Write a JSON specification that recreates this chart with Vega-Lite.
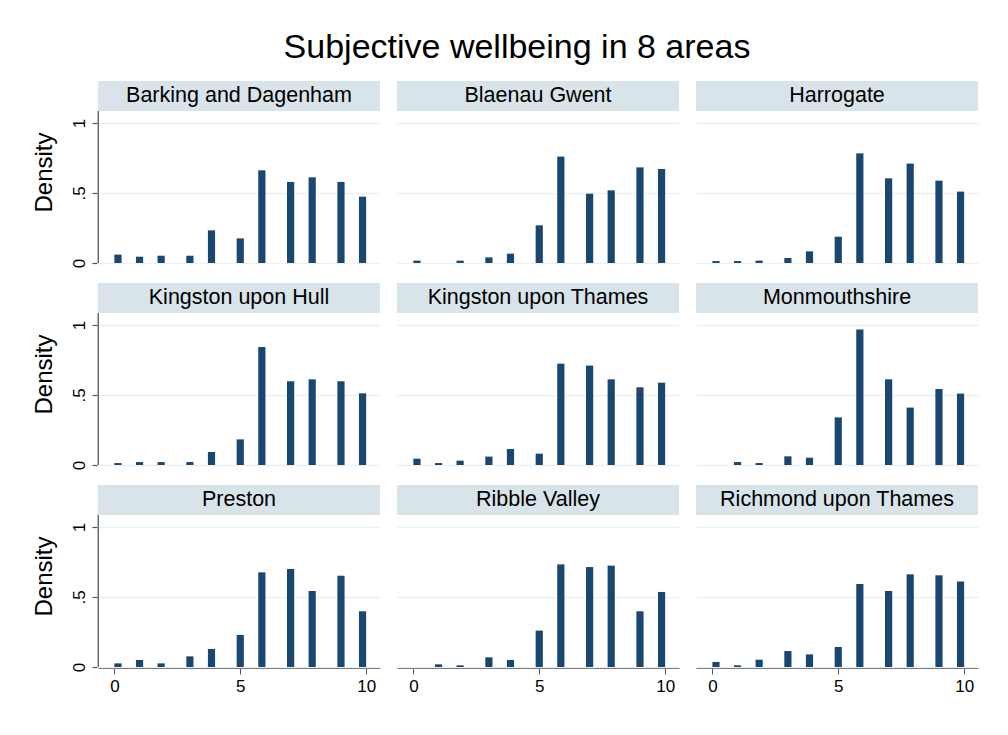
{
  "$schema": "https://vega.github.io/schema/vega-lite/v6.json",
  "background": "white",
  "padding": {"left": 32, "top": 31, "right": 5, "bottom": 5},
  "title": {"text": "Subjective wellbeing in 8 areas", "fontSize": 34, "fontWeight": "normal", "color": "#000000", "anchor": "middle", "offset": 15, "dx": 12},
  "datasets": {
    "bins": [
      {"v": 0, "x0": 0.0, "x1": 0.2857},
      {"v": 1, "x0": 0.8571, "x1": 1.1429},
      {"v": 2, "x0": 1.7143, "x1": 2.0},
      {"v": 3, "x0": 2.8571, "x1": 3.1429},
      {"v": 4, "x0": 3.7143, "x1": 4.0},
      {"v": 5, "x0": 4.8571, "x1": 5.1429},
      {"v": 6, "x0": 5.7143, "x1": 6.0},
      {"v": 7, "x0": 6.8571, "x1": 7.1429},
      {"v": 8, "x0": 7.7143, "x1": 8.0},
      {"v": 9, "x0": 8.8571, "x1": 9.1429},
      {"v": 10, "x0": 9.7143, "x1": 10.0}
    ],
    "wb": [
      {"area": "Barking and Dagenham", "v": 0, "d": 0.060},
      {"area": "Barking and Dagenham", "v": 1, "d": 0.045},
      {"area": "Barking and Dagenham", "v": 2, "d": 0.052},
      {"area": "Barking and Dagenham", "v": 3, "d": 0.052},
      {"area": "Barking and Dagenham", "v": 4, "d": 0.233},
      {"area": "Barking and Dagenham", "v": 5, "d": 0.176},
      {"area": "Barking and Dagenham", "v": 6, "d": 0.662},
      {"area": "Barking and Dagenham", "v": 7, "d": 0.579},
      {"area": "Barking and Dagenham", "v": 8, "d": 0.612},
      {"area": "Barking and Dagenham", "v": 9, "d": 0.579},
      {"area": "Barking and Dagenham", "v": 10, "d": 0.474},
      {"area": "Blaenau Gwent", "v": 0, "d": 0.017},
      {"area": "Blaenau Gwent", "v": 2, "d": 0.017},
      {"area": "Blaenau Gwent", "v": 3, "d": 0.040},
      {"area": "Blaenau Gwent", "v": 4, "d": 0.067},
      {"area": "Blaenau Gwent", "v": 5, "d": 0.269},
      {"area": "Blaenau Gwent", "v": 6, "d": 0.760},
      {"area": "Blaenau Gwent", "v": 7, "d": 0.495},
      {"area": "Blaenau Gwent", "v": 8, "d": 0.519},
      {"area": "Blaenau Gwent", "v": 9, "d": 0.683},
      {"area": "Blaenau Gwent", "v": 10, "d": 0.671},
      {"area": "Harrogate", "v": 0, "d": 0.014},
      {"area": "Harrogate", "v": 1, "d": 0.014},
      {"area": "Harrogate", "v": 2, "d": 0.017},
      {"area": "Harrogate", "v": 3, "d": 0.036},
      {"area": "Harrogate", "v": 4, "d": 0.083},
      {"area": "Harrogate", "v": 5, "d": 0.188},
      {"area": "Harrogate", "v": 6, "d": 0.783},
      {"area": "Harrogate", "v": 7, "d": 0.605},
      {"area": "Harrogate", "v": 8, "d": 0.710},
      {"area": "Harrogate", "v": 9, "d": 0.588},
      {"area": "Harrogate", "v": 10, "d": 0.510},
      {"area": "Kingston upon Hull", "v": 0, "d": 0.014},
      {"area": "Kingston upon Hull", "v": 1, "d": 0.021},
      {"area": "Kingston upon Hull", "v": 2, "d": 0.021},
      {"area": "Kingston upon Hull", "v": 3, "d": 0.021},
      {"area": "Kingston upon Hull", "v": 4, "d": 0.093},
      {"area": "Kingston upon Hull", "v": 5, "d": 0.183},
      {"area": "Kingston upon Hull", "v": 6, "d": 0.843},
      {"area": "Kingston upon Hull", "v": 7, "d": 0.598},
      {"area": "Kingston upon Hull", "v": 8, "d": 0.612},
      {"area": "Kingston upon Hull", "v": 9, "d": 0.598},
      {"area": "Kingston upon Hull", "v": 10, "d": 0.512},
      {"area": "Kingston upon Thames", "v": 0, "d": 0.045},
      {"area": "Kingston upon Thames", "v": 1, "d": 0.014},
      {"area": "Kingston upon Thames", "v": 2, "d": 0.031},
      {"area": "Kingston upon Thames", "v": 3, "d": 0.060},
      {"area": "Kingston upon Thames", "v": 4, "d": 0.114},
      {"area": "Kingston upon Thames", "v": 5, "d": 0.081},
      {"area": "Kingston upon Thames", "v": 6, "d": 0.724},
      {"area": "Kingston upon Thames", "v": 7, "d": 0.710},
      {"area": "Kingston upon Thames", "v": 8, "d": 0.612},
      {"area": "Kingston upon Thames", "v": 9, "d": 0.555},
      {"area": "Kingston upon Thames", "v": 10, "d": 0.588},
      {"area": "Monmouthshire", "v": 1, "d": 0.021},
      {"area": "Monmouthshire", "v": 2, "d": 0.014},
      {"area": "Monmouthshire", "v": 3, "d": 0.062},
      {"area": "Monmouthshire", "v": 4, "d": 0.052},
      {"area": "Monmouthshire", "v": 5, "d": 0.340},
      {"area": "Monmouthshire", "v": 6, "d": 0.967},
      {"area": "Monmouthshire", "v": 7, "d": 0.612},
      {"area": "Monmouthshire", "v": 8, "d": 0.410},
      {"area": "Monmouthshire", "v": 9, "d": 0.543},
      {"area": "Monmouthshire", "v": 10, "d": 0.510},
      {"area": "Preston", "v": 0, "d": 0.026},
      {"area": "Preston", "v": 1, "d": 0.050},
      {"area": "Preston", "v": 2, "d": 0.026},
      {"area": "Preston", "v": 3, "d": 0.076},
      {"area": "Preston", "v": 4, "d": 0.129},
      {"area": "Preston", "v": 5, "d": 0.229},
      {"area": "Preston", "v": 6, "d": 0.676},
      {"area": "Preston", "v": 7, "d": 0.700},
      {"area": "Preston", "v": 8, "d": 0.543},
      {"area": "Preston", "v": 9, "d": 0.652},
      {"area": "Preston", "v": 10, "d": 0.398},
      {"area": "Ribble Valley", "v": 1, "d": 0.019},
      {"area": "Ribble Valley", "v": 2, "d": 0.012},
      {"area": "Ribble Valley", "v": 3, "d": 0.069},
      {"area": "Ribble Valley", "v": 4, "d": 0.050},
      {"area": "Ribble Valley", "v": 5, "d": 0.260},
      {"area": "Ribble Valley", "v": 6, "d": 0.733},
      {"area": "Ribble Valley", "v": 7, "d": 0.714},
      {"area": "Ribble Valley", "v": 8, "d": 0.724},
      {"area": "Ribble Valley", "v": 9, "d": 0.398},
      {"area": "Ribble Valley", "v": 10, "d": 0.536},
      {"area": "Richmond upon Thames", "v": 0, "d": 0.036},
      {"area": "Richmond upon Thames", "v": 1, "d": 0.012},
      {"area": "Richmond upon Thames", "v": 2, "d": 0.052},
      {"area": "Richmond upon Thames", "v": 3, "d": 0.114},
      {"area": "Richmond upon Thames", "v": 4, "d": 0.090},
      {"area": "Richmond upon Thames", "v": 5, "d": 0.143},
      {"area": "Richmond upon Thames", "v": 6, "d": 0.593},
      {"area": "Richmond upon Thames", "v": 7, "d": 0.543},
      {"area": "Richmond upon Thames", "v": 8, "d": 0.662},
      {"area": "Richmond upon Thames", "v": 9, "d": 0.655},
      {"area": "Richmond upon Thames", "v": 10, "d": 0.610}
    ]
  },
  "data": {"name": "wb"},
  "transform": [
    {"lookup": "v", "from": {"data": {"name": "bins"}, "key": "v", "fields": ["x0", "x1"]}}
  ],
  "facet": {"field": "area", "type": "nominal", "header": {"title": null, "labels": false, "labelExpr": "''", "labelFontSize": 1, "labelPadding": 0, "labelColor": "white"}},
  "columns": 3,
  "spacing": {"row": 18, "column": 17},
  "spec": {
    "width": 282,
    "height": 182,
    "layer": [
      {
        "mark": {"type": "rect", "color": "#1a476f"},
        "encoding": {
          "x": {
            "field": "x0", "type": "quantitative",
            "scale": {"domain": [-0.65, 10.55], "nice": false, "zero": false},
            "axis": {"values": [0, 5, 10], "title": null, "grid": false, "domain": true, "domainColor": "#555555", "tickColor": "#555555", "tickSize": 6, "labelFontSize": 17, "labelColor": "#000000", "labelPadding": 4, "labelFlush": false}
          },
          "x2": {"field": "x1"},
          "y": {
            "field": "d", "type": "quantitative",
            "scale": {"domain": [0, 1.3], "nice": false},
            "axis": {"values": [0, 0.5, 1], "format": "~g", "title": "Density", "titleFontSize": 24, "titleFontWeight": "normal", "titleColor": "#000000", "titlePadding": 14, "domain": false, "ticks": true, "tickColor": "#555555", "tickWidth": 1.2, "tickSize": 5, "labelAngle": -90, "labelAlign": "center", "labelBaseline": "alphabetic", "labelPadding": 8, "labelFontSize": 17, "labelColor": "#000000", "labelExpr": "datum.value == 0.5 ? '.5' : datum.label", "grid": true, "gridColor": "#eaf2f3", "gridWidth": 1.5}
          },
          "y2": {"datum": 0}
        }
      },
      {
        "mark": {"type": "rect", "color": "#d8e4e9"},
        "transform": [{"filter": "datum.v == 6"}],
        "encoding": {
          "x": {"datum": -0.65},
          "x2": {"datum": 10.55},
          "y": {"datum": 1.086},
          "y2": {"datum": 1.3}
        }
      },
      {
        "mark": {"type": "text", "fontSize": 21.5, "color": "#000000", "align": "center", "baseline": "middle"},
        "transform": [{"filter": "datum.v == 6"}],
        "encoding": {
          "x": {"datum": 4.95},
          "y": {"datum": 1.193},
          "text": {"field": "area"}
        }
      },
      {
        "mark": {"type": "rule", "color": "#555555", "strokeWidth": 1.3},
        "transform": [{"filter": "datum.v == 6 && (datum.area == 'Barking and Dagenham' || datum.area == 'Kingston upon Hull' || datum.area == 'Preston')"}],
        "encoding": {
          "x": {"datum": -0.64},
          "y": {"datum": 0},
          "y2": {"datum": 1.086}
        }
      }
    ]
  },
  "config": {
    "font": "Liberation Sans",
    "view": {"stroke": null},
    "header": {"labels": false, "title": null},
    "headerFacet": {"labels": false, "title": null}
  }
}
